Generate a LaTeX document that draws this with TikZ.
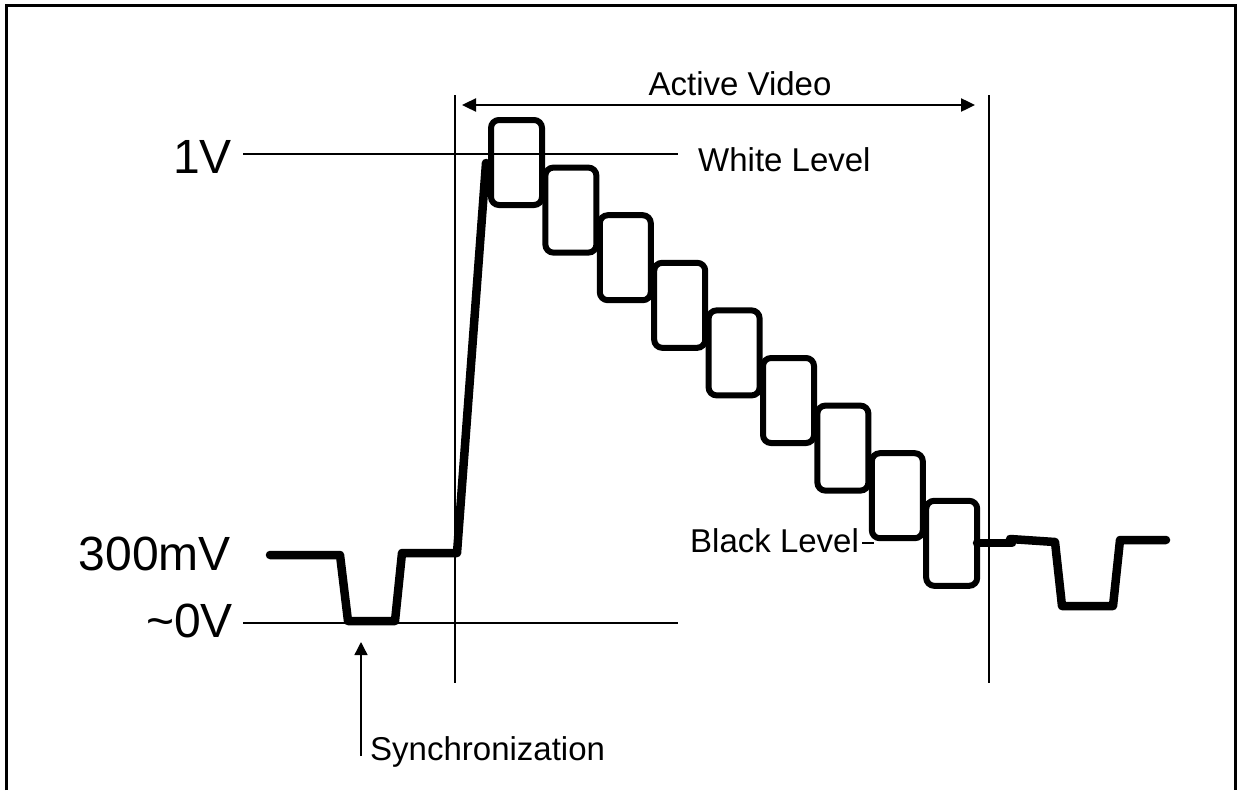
\documentclass[tikz,border=0pt]{standalone}
\usepackage{fontspec}
\setmainfont{Liberation Sans}
\usetikzlibrary{arrows.meta}

\begin{document}
\begin{tikzpicture}[x=1pt,y=-1pt,
  guide/.style={line width=1.4pt},
  signal/.style={line width=8.5pt, line cap=round, line join=round},
  stepbox/.style={line width=6pt, rounded corners=8pt},
  biglabel/.style={font=\fontsize{48}{48}\selectfont, inner sep=0pt},
  label/.style={font=\fontsize{33}{33}\selectfont, inner sep=0pt},
  tip/.style={-{Triangle[length=13pt,width=13pt]}},
]
\useasboundingbox (0,0) rectangle (1241,790);

% outer frame, open at the bottom
\draw[line width=3pt] (6.5,790) -- (6.5,5.5) -- (1235,5.5) -- (1235,790);

% level labels
\node[biglabel, anchor=base east] (v1)   at (232,173) {1V};
\node[biglabel, anchor=base east] (v300) at (231,570) {300mV};
\node[biglabel, anchor=base east] (v0)   at (233,637) {\textasciitilde 0V};
\node[label, anchor=base west] (white) at (698,171) {White Level};
\node[label, anchor=base west] (black) at (690,552) {Black Level};
\node[label, anchor=base] (active) at (740,95) {Active Video};
\node[label, anchor=base west] (sync) at (370,760) {Synchronization};

% reference levels
\coordinate (wl0) at (243,154);
\coordinate (wl1) at (678,154);
\coordinate (zl0) at (243,623);
\coordinate (zl1) at (678,623);
\draw[guide] (wl0) -- (wl1);
\draw[guide] (zl0) -- (zl1);

% active video window
\coordinate (av0t) at (455,95);
\coordinate (av0b) at (455,683);
\coordinate (av1t) at (989,95);
\coordinate (av1b) at (989,683);
\draw[guide] (av0t) -- (av0b);
\draw[guide] (av1t) -- (av1b);
\coordinate (aa) at (462,105);
\coordinate (ab) at (975,105);
\draw[line width=2.4pt, {Triangle[length=14pt,width=13pt]}-{Triangle[length=14pt,width=13pt]}] (aa) -- (ab);

% black level tick
\coordinate (bl0) at (862,543);
\coordinate (bl1) at (874,543);
\draw[guide] (bl0) -- (bl1);

% synchronization pointer
\coordinate (sp0) at (361,756);
\coordinate (sp1) at (361,642);
\draw[guide, tip] (sp0) -- (sp1);

% waveform: sync pulse, back porch and rising edge
\draw[signal] (270,555) -- (340,555) -- (348,621) -- (395,621) -- (402,553)
  -- (457,553) -- (486,163);

% grey-scale staircase
\foreach \i in {0,...,8}
  \draw[stepbox] ({491+54.4*\i},{120+47.6*\i}) rectangle ++(51,85);

% waveform after the active line
\draw[signal] (977,543) -- (1012,543);
\draw[signal] (1010,539) -- (1055,542) -- (1062,606) -- (1113,606)
  -- (1120,540) -- (1166,540);
\end{tikzpicture}
\end{document}
